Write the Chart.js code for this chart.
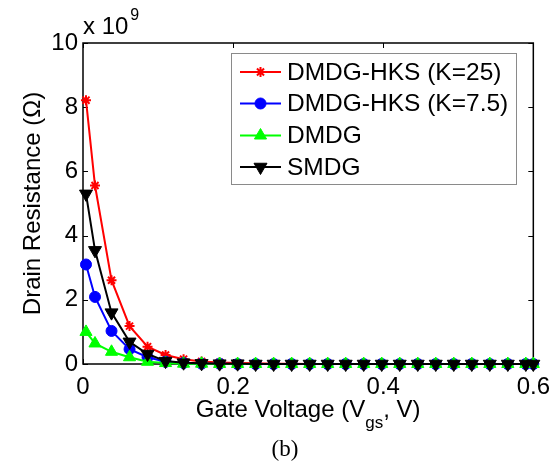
<!DOCTYPE html>
<html><head><meta charset="utf-8">
<script src="https://cdn.jsdelivr.net/npm/chart.js@4.4.0/dist/chart.umd.min.js"></script>
<style>html,body{margin:0;padding:0;background:#fff;} #wrap{width:559px;height:464px;position:relative;}</style>
</head><body><div id="wrap"><canvas id="c" width="559" height="464"></canvas></div>
<script>
// ---- data (values in units of 1e9 Ohm) ----
const gateVoltage = [0.004, 0.016, 0.038, 0.062, 0.086, 0.110, 0.134, 0.158, 0.182, 0.206, 0.230, 0.254, 0.278, 0.302, 0.326, 0.350, 0.374, 0.398, 0.422, 0.446, 0.470, 0.494, 0.518, 0.542, 0.566, 0.590, 0.600];
const hksK25  = [8.22, 5.56, 2.61, 1.18, 0.54, 0.28, 0.15, 0.08, 0.05, 0.03, 0.02, 0.01, 0.01, 0, 0, 0, 0, 0, 0, 0, 0, 0, 0, 0, 0, 0, 0];
const hksK75  = [3.10, 2.09, 1.03, 0.46, 0.21, 0.07, 0.03, 0.01, 0.01, 0, 0, 0, 0, 0, 0, 0, 0, 0, 0, 0, 0, 0, 0, 0, 0, 0, 0];
const dmdg    = [1.00, 0.64, 0.38, 0.21, 0.07, 0.03, 0.01, 0.01, 0, 0, 0, 0, 0, 0, 0, 0, 0, 0, 0, 0, 0, 0, 0, 0, 0, 0, 0];
const smdg    = [5.30, 3.54, 1.60, 0.69, 0.31, 0.09, 0.04, 0.02, 0.01, 0.01, 0, 0, 0, 0, 0, 0, 0, 0, 0, 0, 0, 0, 0, 0, 0, 0, 0];
const seriesNames = ['DMDG-HKS (K=25)', 'DMDG-HKS (K=7.5)', 'DMDG', 'SMDG'];
const xTickValues = [0, 0.2, 0.4, 0.6];
const xTickLabels = ['0', '0.2', '0.4', '0.6'];
const yTickValues = [0, 2, 4, 6, 8, 10];
const yTickLabels = ['0', '2', '4', '6', '8', '10'];

const FONT = "'Liberation Sans', Arial, Helvetica, sans-serif";
const PLOT = {left: 83, right: 535, top: 43, bottom: 364};

function xy(vals) { return gateVoltage.map((x, i) => ({x: x, y: vals[i]})); }

const styles = [
  {color: '#ff0000', pointStyle: 'star', radius: 5, rotation: 0, order: 4},
  {color: '#0000ff', pointStyle: 'circle', radius: 5.5, rotation: 0, order: 3},
  {color: '#00ff00', pointStyle: 'triangle', radius: 7, rotation: 0, order: 2},
  {color: '#000000', pointStyle: 'triangle', radius: 7.5, rotation: 180, order: 1}
];
const seriesData = [hksK25, hksK75, dmdg, smdg];

const datasets = seriesData.map((vals, i) => ({
  label: seriesNames[i],
  data: xy(vals),
  borderColor: styles[i].color,
  backgroundColor: styles[i].color,
  pointBackgroundColor: styles[i].color,
  pointBorderColor: styles[i].color,
  pointStyle: styles[i].pointStyle,
  pointRotation: styles[i].rotation,
  pointRadius: styles[i].radius,
  pointBorderWidth: styles[i].pointStyle === 'star' ? 2 : 1,
  borderWidth: 2,
  tension: 0,
  clip: false,
  order: styles[i].order
}));

function drawMarker(ctx, st, x, y) {
  ctx.save();
  ctx.fillStyle = st.color; ctx.strokeStyle = st.color;
  const opts = {pointStyle: st.pointStyle, rotation: st.rotation, radius: st.radius, borderWidth: st.pointStyle === 'star' ? 2 : 1};
  if (Chart.helpers && Chart.helpers.drawPoint) {
    ctx.lineWidth = opts.borderWidth;
    Chart.helpers.drawPoint(ctx, opts, x, y);
  } else {
    ctx.beginPath(); ctx.arc(x, y, st.radius, 0, Math.PI * 2); ctx.fill();
  }
  ctx.restore();
}

const framePlugin = {
  id: 'frame',
  beforeDatasetsDraw(chart) {
    const ctx = chart.ctx, a = chart.chartArea;
    const xs = chart.scales.x, ys = chart.scales.y;
    ctx.save();
    ctx.strokeStyle = '#000'; ctx.lineWidth = 1.5;
    ctx.strokeRect(a.left, a.top, a.right - a.left, a.bottom - a.top);
    ctx.lineWidth = 1;
    const tl = 5;
    ctx.beginPath();
    xTickValues.forEach(v => {
      const px = Math.round(xs.getPixelForValue(v)) + 0.5;
      ctx.moveTo(px, a.bottom); ctx.lineTo(px, a.bottom - tl);
      ctx.moveTo(px, a.top); ctx.lineTo(px, a.top + tl);
    });
    yTickValues.forEach(v => {
      const py = Math.round(ys.getPixelForValue(v)) + 0.5;
      ctx.moveTo(a.left, py); ctx.lineTo(a.left + tl, py);
      ctx.moveTo(a.right, py); ctx.lineTo(a.right - tl, py);
    });
    ctx.stroke();
    ctx.restore();
  },
  afterDraw(chart) {
    const ctx = chart.ctx, a = chart.chartArea;
    ctx.save();
    // legend
    const L = {x: 231.5, y: 53.5, w: 285, h: 131};
    ctx.fillStyle = '#fff';
    ctx.fillRect(L.x, L.y, L.w, L.h);
    ctx.strokeStyle = '#8a8a8a'; ctx.lineWidth = 1;
    ctx.strokeRect(L.x, L.y, L.w, L.h);
    const rows = [72, 103.5, 135.5, 167];
    ctx.font = '24.5px ' + FONT;
    ctx.textBaseline = 'middle'; ctx.textAlign = 'left';
    seriesNames.forEach((name, i) => {
      const y = rows[i];
      ctx.strokeStyle = styles[i].color; ctx.lineWidth = 2;
      ctx.beginPath(); ctx.moveTo(240, y); ctx.lineTo(281, y); ctx.stroke();
      drawMarker(ctx, styles[i], 260.5, y);
      ctx.fillStyle = '#000';
      ctx.fillText(name, 287, y + 1);
    });
    // exponent label
    ctx.textBaseline = 'alphabetic';
    ctx.fillStyle = '#000';
    ctx.font = '24px ' + FONT;
    const base = 'x 10';
    ctx.fillText(base, 83, 34);
    const bw = ctx.measureText(base).width;
    ctx.font = '16px ' + FONT;
    ctx.fillText('9', 83 + bw + 2, 20);
    // x title with subscript
    const p1 = 'Gate Voltage (V', sub = 'gs', p2 = ', V)';
    ctx.font = '24px ' + FONT; const w1 = ctx.measureText(p1).width, w3 = ctx.measureText(p2).width;
    ctx.font = '17px ' + FONT; const w2 = ctx.measureText(sub).width;
    let x0 = (a.left + a.right) / 2 - (w1 + w2 + w3) / 2;
    ctx.font = '24px ' + FONT; ctx.fillText(p1, x0, 417);
    ctx.font = '17px ' + FONT; ctx.fillText(sub, x0 + w1, 428);
    ctx.font = '24px ' + FONT; ctx.fillText(p2, x0 + w1 + w2, 417);
    // y title
    ctx.save();
    ctx.translate(40, (a.top + a.bottom) / 2);
    ctx.rotate(-Math.PI / 2);
    ctx.textAlign = 'center';
    ctx.font = '24px ' + FONT;
    ctx.fillText('Drain Resistance (\u03A9)', 0, 0);
    ctx.restore();
    // caption
    ctx.textAlign = 'center';
    ctx.font = "23px 'Liberation Serif', 'Times New Roman', serif";
    ctx.fillText('(b)', 285, 456);
    ctx.restore();
  }
};

new Chart(document.getElementById('c'), {
  type: 'line',
  data: {datasets: datasets},
  options: {
    responsive: false,
    animation: false,
    events: [],
    layout: {padding: {left: 0, right: 559 - PLOT.right, top: PLOT.top, bottom: 0}},
    plugins: {legend: {display: false}, tooltip: {enabled: false}, title: {display: false}},
    scales: {
      x: {
        type: 'linear', min: 0, max: 0.6,
        afterBuildTicks: s => { s.ticks = xTickValues.map(v => ({value: v})); },
        afterFit: s => { s.height = 464 - PLOT.bottom; },
        grid: {display: false, drawTicks: false},
        border: {display: false},
        ticks: {
          font: {size: 24, family: FONT}, color: '#000', padding: 9, maxRotation: 0,
          callback: (v, i) => xTickLabels[i]
        }
      },
      y: {
        type: 'linear', min: 0, max: 10,
        afterBuildTicks: s => { s.ticks = yTickValues.map(v => ({value: v})); },
        afterFit: s => { s.width = PLOT.left; },
        grid: {display: false, drawTicks: false},
        border: {display: false},
        ticks: {
          font: {size: 24, family: FONT}, color: '#000', padding: 5,
          callback: (v, i) => yTickLabels[i]
        }
      }
    }
  },
  plugins: [framePlugin]
});
</script>
</body></html>
